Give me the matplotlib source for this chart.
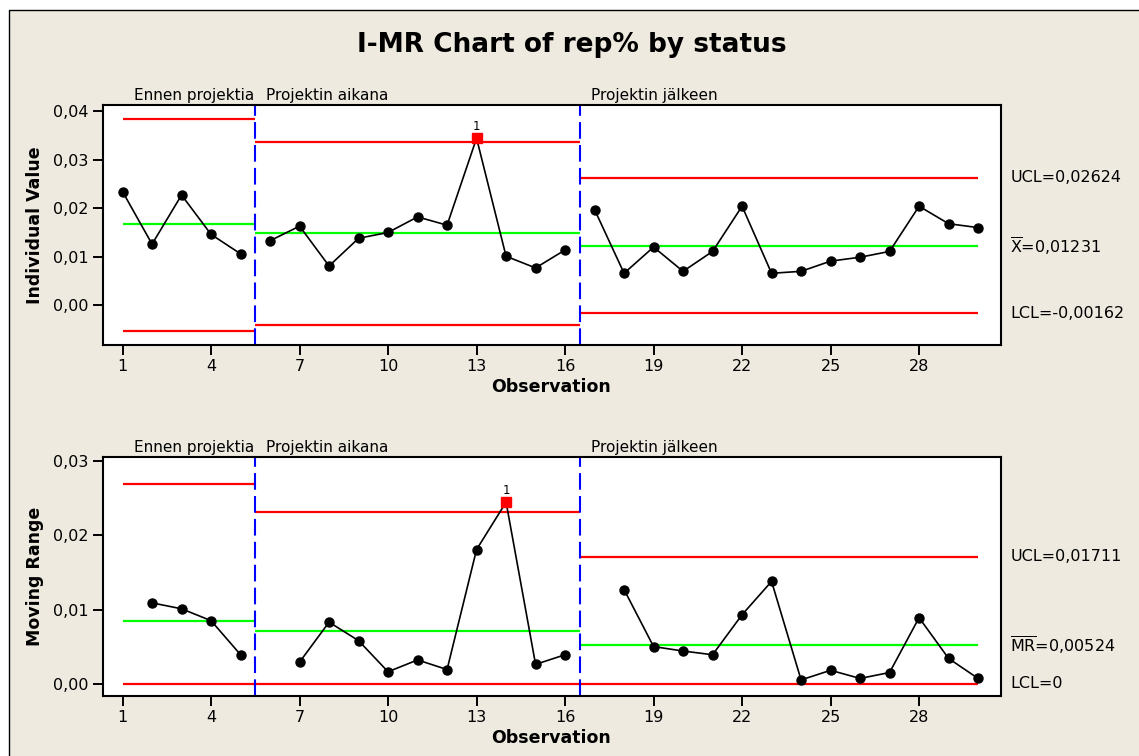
import numpy as np
import matplotlib
matplotlib.use("Agg")
import matplotlib.pyplot as plt
from matplotlib.patches import Rectangle
from matplotlib.lines import Line2D
from matplotlib.ticker import FuncFormatter, FixedLocator

plt.rcParams['font.family'] = ['DejaVu Sans']
plt.rcParams['mathtext.fontset'] = 'dejavusans'

# rep% per observation, three project phases
obs = np.arange(1, 31)
ind_values = [0.0234, 0.0126, 0.0227, 0.0146, 0.0106,
              0.0133, 0.0163, 0.0081, 0.0138, 0.0150, 0.0182, 0.0165, 0.0344, 0.0101, 0.0077, 0.0114,
              0.0197, 0.0066, 0.0120, 0.0070, 0.0111, 0.0204, 0.0066, 0.0070, 0.0091, 0.0099,
              0.0111, 0.0204, 0.0168, 0.0160]
mr_values = [np.nan, 0.0109, 0.0101, 0.0085, 0.0039,
             np.nan, 0.0029, 0.0083, 0.0058, 0.0016, 0.0032, 0.0019, 0.0181, 0.0245, 0.0026, 0.0039,
             np.nan, 0.0127, 0.0050, 0.0044, 0.0039, 0.0093, 0.0138, 0.0005, 0.0018, 0.0007,
             0.0015, 0.0089, 0.0034, 0.0007]

phase_names = ['Ennen projektia', 'Projektin aikana', 'Projektin jälkeen']
phase_first = [1, 6, 17]
phase_last = [5, 16, 30]

i_ucl = [0.03842, 0.03362, 0.02624]
i_cl = [0.01667, 0.01496, 0.01231]
i_lcl = [-0.00528, -0.00412, -0.00162]
mr_ucl = [0.02688, 0.02314, 0.01711]
mr_cl = [0.00848, 0.00713, 0.00524]
mr_lcl = [0.0, 0.0, 0.0]

i_flagged = [13]
mr_flagged = [14]

i_labels = ['UCL=0,02624', r'$\overline{\mathrm{X}}$=0,01231', 'LCL=-0,00162']
mr_labels = ['UCL=0,01711', r'$\overline{\mathrm{MR}}$=0,00524', 'LCL=0']

x_ticks = [1, 4, 7, 10, 13, 16, 19, 22, 25, 28]
label_x = [1.39, 5.86, 16.88]

bg = '#EEEAE0'
W, H = 1139, 756

fig = plt.figure(figsize=(W / 100, H / 100), dpi=100, facecolor='white')
# beige panel with a frame line on its top and left edges only
fig.add_artist(Rectangle((8.5 / W, 0), 1, (H - 9.5) / H, transform=fig.transFigure,
                         facecolor=bg, edgecolor='none', zorder=-5))
fig.add_artist(Line2D([8.5 / W, 8.5 / W, 1], [0, (H - 9.5) / H, (H - 9.5) / H],
                      transform=fig.transFigure, color='black', lw=1.0, zorder=-4))

fig.text(572 / W, 1 - 45 / H, 'I-MR Chart of rep% by status', ha='center', va='center',
         fontsize=19, fontweight='bold')

ax_i = fig.add_axes([102.5 / W, 1 - 345 / H, 898 / W, 240 / H])
ax_mr = fig.add_axes([102.5 / W, 1 - 696 / H, 898 / W, 239 / H])

comma = FuncFormatter(lambda v, p: f'{v:.2f}'.replace('.', ','))


def draw_panel(ax, values, ucl, cl, lcl, flagged, labels, ylim, yticks, ylabel):
    values = np.asarray(values, dtype=float)
    n = len(phase_first)
    for k in range(n):
        left = phase_first[k] if k == 0 else phase_first[k] - 0.5
        right = phase_last[k] if k == n - 1 else phase_last[k] + 0.5
        ax.hlines(ucl[k], left, right, color='#FF0000', lw=1.6, zorder=2)
        ax.hlines(lcl[k], left, right, color='#FF0000', lw=1.6, zorder=2)
        ax.hlines(cl[k], left, right, color='#00FF00', lw=1.6, zorder=2)
        sel = (obs >= phase_first[k]) & (obs <= phase_last[k])
        ax.plot(obs[sel], values[sel], color='black', lw=1.2, marker='o', ms=6.5, zorder=3)
        ax.text(label_x[k], 1.008, phase_names[k], transform=ax.get_xaxis_transform(),
                ha='left', va='bottom', fontsize=11)
    for b in phase_last[:-1]:
        ax.axvline(b + 0.5, color='#0000FF', lw=1.5, dashes=(8, 3), zorder=2)
    for f in flagged:
        v = values[f - 1]
        ax.plot([f], [v], marker='s', ms=6.5, color='#FF0000', ls='none', zorder=4)
        ax.annotate('1', (f, v), xytext=(0, 4), textcoords='offset points',
                    ha='center', va='bottom', fontsize=8.5)
    for y, lab in zip([ucl[-1], cl[-1], lcl[-1]], labels):
        ax.text(1.011, y, lab, transform=ax.get_yaxis_transform(), ha='left', va='center',
                fontsize=11.5)

    ax.set_xlim(0.32, 30.76)
    ax.set_ylim(*ylim)
    ax.xaxis.set_major_locator(FixedLocator(x_ticks))
    ax.yaxis.set_major_locator(FixedLocator(yticks))
    ax.yaxis.set_major_formatter(comma)
    ax.tick_params(direction='out', length=7, width=1.4, labelsize=11.5, pad=3)
    for s in ax.spines.values():
        s.set_linewidth(1.5)
    ax.set_facecolor('white')
    ax.set_xlabel('Observation', fontsize=12.5, fontweight='bold', labelpad=3)
    pos = ax.get_position()
    fig.text(35 / W, (pos.y0 + pos.y1) / 2, ylabel,
             rotation=90, ha='center', va='center', fontsize=12.5, fontweight='bold')


draw_panel(ax_i, ind_values, i_ucl, i_cl, i_lcl, i_flagged, i_labels,
           (-0.00816, 0.04123), [0.0, 0.01, 0.02, 0.03, 0.04], 'Individual Value')
draw_panel(ax_mr, mr_values, mr_ucl, mr_cl, mr_lcl, mr_flagged, mr_labels,
           (-0.00167, 0.03059), [0.0, 0.01, 0.02, 0.03], 'Moving Range')

fig.savefig('out.png', dpi=100, facecolor=fig.get_facecolor())
